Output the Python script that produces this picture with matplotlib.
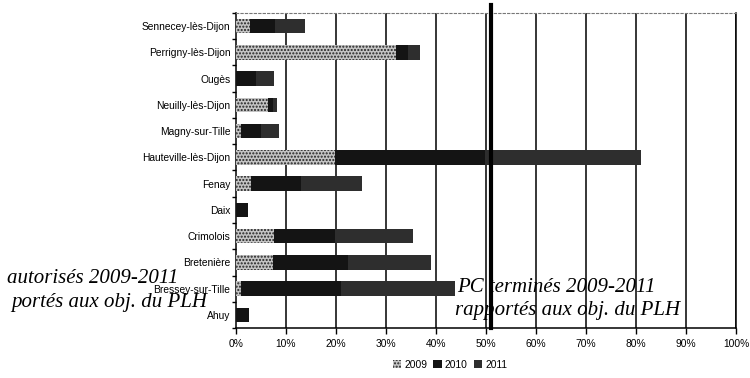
import matplotlib
matplotlib.use("Agg")
import matplotlib.pyplot as plt
from matplotlib.patches import Patch
from matplotlib import font_manager

communes = ["Sennecey-lès-Dijon", "Perrigny-lès-Dijon", "Ougès", "Neuilly-lès-Dijon",
            "Magny-sur-Tille", "Hauteville-lès-Dijon", "Fenay", "Daix", "Crimolois",
            "Bretenière", "Bressey-sur-Tille", "Ahuy"]
v2009 = [2.8, 32.0, 0.0, 6.4, 1.0, 19.8, 3.0, 0.0, 7.6, 7.4, 1.0, 0.0]
v2010 = [5.0, 2.4, 4.0, 1.0, 4.0, 30.0, 10.0, 2.4, 12.2, 15.0, 20.0, 2.6]
v2011 = [6.0, 2.4, 3.6, 0.8, 3.6, 31.2, 12.2, 0.0, 15.6, 16.6, 22.8, 0.0]
years = ["2009", "2010", "2011"]
xticks = [0, 10, 20, 30, 40, 50, 60, 70, 80, 90, 100]
objective_line = 51

names = {f.name for f in font_manager.fontManager.ttflist}
narrow = "Liberation Sans Narrow" if "Liberation Sans Narrow" in names else "Liberation Sans"
lab_size = 8 if narrow == "Liberation Sans Narrow" else 7.4

W, H = 750, 378
fig = plt.figure(figsize=(7.5, 3.78), dpi=100)
ax = fig.add_axes([236 / W, 1 - 328 / H, 500 / W, 315 / H])

ypos = list(range(len(communes)))
colors = ["#c4c4c4", "#141414", "#2e2e2e"]
hatches = [".....", None, None]
left = [0.0] * len(communes)
for vals, c, h in zip([v2009, v2010, v2011], colors, hatches):
    ax.barh(ypos, vals, left=left, height=0.55, color=c, hatch=h,
            edgecolor="#222222" if h else c, linewidth=0, zorder=3)
    left = [a + b for a, b in zip(left, vals)]

ax.set_ylim(len(communes) - 0.5, -0.5)
ax.set_xlim(0, 100)
ax.set_yticks(ypos)
ax.set_yticklabels(communes, fontsize=lab_size, family=narrow)
ax.tick_params(axis="y", length=0, pad=4)
ax.set_yticks([i + 0.5 for i in range(-1, len(communes))], minor=True)
ax.tick_params(axis="y", which="minor", length=3, direction="out", width=1)

ax.set_xticks(xticks)
ax.set_xticklabels([f"{t}%" for t in xticks], fontsize=lab_size, family=narrow)
ax.tick_params(axis="x", length=4, direction="out", width=1, pad=4)

for t in xticks[1:]:
    ax.axvline(t, color="black", lw=1.1, zorder=1)

ax.plot([objective_line, objective_line], [0, 1.025], transform=ax.get_xaxis_transform(),
        color="black", lw=3, zorder=5, clip_on=False)

for s in ["left", "bottom", "right"]:
    ax.spines[s].set_color("black")
    ax.spines[s].set_linewidth(1.1)
ax.spines["top"].set_color("#777777")
ax.spines["top"].set_linestyle((0, (2, 2)))

serif = dict(family="Liberation Serif", style="italic", fontsize=15, color="black")
fig.text(178 / W, 1 - 283 / H, "autorisés 2009-2011", ha="right", va="baseline", **serif)
fig.text(207 / W, 1 - 307 / H, "portés aux obj. du PLH", ha="right", va="baseline", **serif)
fig.text(457 / W, 1 - 292 / H, "PC terminés 2009-2011", ha="left", va="baseline", **serif)
fig.text(455 / W, 1 - 315 / H, "rapportés aux obj. du PLH", ha="left", va="baseline", **serif)

handles = [Patch(facecolor=c, hatch=h, edgecolor="#222222" if h else c, linewidth=0)
           for c, h in zip(colors, hatches)]
fig.legend(handles, years, loc="center", bbox_to_anchor=(450 / W, 1 - 365 / H),
           ncol=3, frameon=False, prop={"family": narrow, "size": lab_size},
           handlelength=0.8, handleheight=0.8, columnspacing=0.6, handletextpad=0.3)

fig.savefig("out.png", dpi=100, facecolor="white")
